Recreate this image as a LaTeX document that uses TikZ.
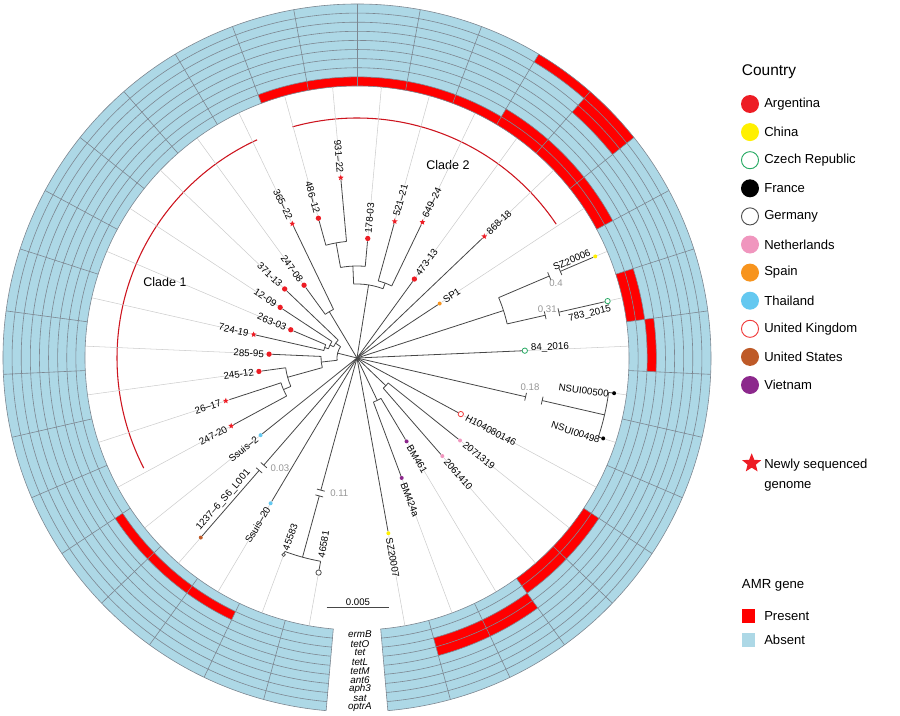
\documentclass[tikz,border=0pt]{standalone}
\usepackage{fontspec}
\setmainfont{Liberation Sans}
\usetikzlibrary{shapes.geometric}

\definecolor{argred}{RGB}{237,28,36}
\definecolor{chinayel}{RGB}{255,240,0}
\definecolor{czgreen}{RGB}{40,170,100}
\definecolor{nlpink}{RGB}{240,150,190}
\definecolor{esorange}{RGB}{247,148,30}
\definecolor{thblue}{RGB}{100,200,240}
\definecolor{usbrown}{RGB}{190,90,40}
\definecolor{vnpurple}{RGB}{140,40,140}
\definecolor{ukred}{RGB}{240,60,60}
\definecolor{degray}{RGB}{80,80,80}
\definecolor{absentblue}{RGB}{173,216,230}
\definecolor{presentred}{RGB}{255,0,0}
\definecolor{ringgray}{RGB}{125,135,145}
\definecolor{tipgray}{RGB}{205,205,205}
\definecolor{treegray}{RGB}{70,70,70}
\definecolor{brkgray}{RGB}{150,150,150}
\definecolor{cladered}{RGB}{205,20,30}

% one present cell: sector #1 (1..34), ring #2 (1..9)
\newcommand\amrcell[2]{%
  \pgfmathsetmacro\aA{-85+(#1-1)*10.2941}%
  \pgfmathsetmacro\aB{\aA+10.2941}%
  \pgfmathsetmacro\rA{272+(#2-1)*9.111}%
  \pgfmathsetmacro\rB{\rA+9.111}%
  \fill[presentred] (\aA:\rA) arc[start angle=\aA,end angle=\aB,radius=\rA] -- (\aB:\rB) arc[start angle=\aB,end angle=\aA,radius=\rB] -- cycle;}

\begin{document}
\begin{tikzpicture}[x=0.75pt,y=0.75pt,
	branch/.style={treegray,line width=0.6pt},
	tipline/.style={tipgray,line width=0.4pt},
	gridline/.style={ringgray,line width=0.45pt},
	brklbl/.style={text=brkgray,font=\fontsize{7.2}{8}\selectfont,inner sep=0pt},
	lbl/.style={font=\fontsize{7.3}{8}\selectfont,inner sep=0pt},
	lblR/.style={lbl,anchor=west},
	lblL/.style={lbl,anchor=east},
	argdot/.style={circle,fill=argred,inner sep=0pt,minimum size=4pt},
	newstar/.style={star,star points=5,star point ratio=2.3,fill=argred,inner sep=0pt,minimum size=4.6pt},
	smalldot/.style={circle,fill=#1,inner sep=0pt,minimum size=3pt},
	opendot/.style={circle,draw=#1,fill=white,line width=0.6pt,inner sep=0pt,minimum size=4pt},
	legdot/.style={circle,fill=#1,inner sep=0pt,minimum size=13.5pt},
	legopen/.style={circle,draw=#1,line width=0.7pt,inner sep=0pt,minimum size=12.8pt},
	legtext/.style={anchor=west,font=\fontsize{9.8}{11}\selectfont,inner sep=0pt},
	legtitle/.style={anchor=west,font=\fontsize{11.6}{13}\selectfont,inner sep=0pt},
	clade/.style={font=\fontsize{9.4}{11}\selectfont,inner sep=0pt},
	genelbl/.style={font=\itshape\fontsize{7.4}{8}\selectfont,inner sep=0pt}]
	\useasboundingbox (-357,-357) rectangle (543,358);

	% AMR ring
	\fill[absentblue] (-85:272) arc[start angle=-85,end angle=265,radius=272] -- (265:354) arc[start angle=265,end angle=-85,radius=354] -- cycle;
	\foreach \s/\g in {15/1,16/1,17/1,18/1,19/1,12/1,12/2,13/1,13/2,14/1,14/2,14/9,13/7,13/8,13/9,10/1,10/2,9/3,4/1,4/2,5/1,5/2,2/3,2/4,3/3,3/4,30/2,31/2,32/2}
		{\amrcell{\s}{\g}}
	\foreach \k in {0,...,9}
		\draw[gridline] (-85:{272+9.111*\k}) arc[start angle=-85,end angle=265,radius={272+9.111*\k}];
	\foreach \k in {0,...,34}
		\draw[gridline] ({-85+10.2941*\k}:272) -- ({-85+10.2941*\k}:354);

	% gene names in the gap
	\node[genelbl] (gErmB) at (3,-276.6) {ermB};
	\node[genelbl] (gTetO) at (3,-285.7) {tetO};
	\node[genelbl] (gTet) at (3,-294.8) {tet};
	\node[genelbl] (gTetL) at (3,-303.9) {tetL};
	\node[genelbl] (gTetM) at (3,-313.0) {tetM};
	\node[genelbl] (gAnt6) at (3,-322.1) {ant6};
	\node[genelbl] (gAph3) at (3,-331.2) {aph3};
	\node[genelbl] (gSat) at (3,-340.4) {sat};
	\node[genelbl] (gOptrA) at (3,-349.5) {optrA};

	% clades
	\draw[cladered,line width=0.8pt] (114.6:240) arc[start angle=114.6,end angle=207.3,radius=240];
	\draw[cladered,line width=0.8pt] (33.9:240) arc[start angle=33.9,end angle=105.6,radius=240];
	\node[clade] (clade1) at (-192,76) {Clade 1};
	\node[clade] (clade2) at (91,193) {Clade 2};

	% tips
	\node[smalldot=chinayel] (nSZ7) at (-79.853:178) {};
	\node[smalldot=vnpurple] (nBM424) at (-69.559:128) {};
	\node[smalldot=vnpurple] (nBM461) at (-59.265:97) {};
	\node[smalldot=nlpink] (n2061) at (-48.971:130) {};
	\node[smalldot=nlpink] (n2071) at (-38.676:132) {};
	\node[opendot=ukred] (nH104) at (-28.382:118) {};
	\node[smalldot=black] (nNS498) at (-18.088:259) {};
	\node[smalldot=black] (nNS500) at (-7.794:259.5) {};
	\node[opendot=czgreen] (n84) at (2.5:168) {};
	\node[opendot=czgreen] (n783) at (12.794:257) {};
	\node[smalldot=chinayel] (nSZ6) at (23.088:259) {};
	\node[smalldot=esorange] (nSP1) at (33.382:99) {};
	\node[newstar] (n868) at (43.676:176) {};
	\node[argdot] (n473) at (53.971:97.6) {};
	\node[newstar] (n649) at (64.265:150.7) {};
	\node[newstar] (n521) at (74.559:141.7) {};
	\node[argdot] (n178) at (84.853:120) {};
	\node[newstar] (n931) at (95.147:181) {};
	\node[argdot] (n486) at (105.441:145) {};
	\node[newstar] (n365) at (115.735:149) {};
	\node[argdot] (n24708) at (126.029:90) {};
	\node[argdot] (n37113) at (136.324:100) {};
	\node[argdot] (n1209) at (146.618:92) {};
	\node[argdot] (n26303) at (156.912:72) {};
	\node[newstar] (n72419) at (167.206:106) {};
	\node[argdot] (n28595) at (177.5:88) {};
	\node[argdot] (n24512) at (187.794:99) {};
	\node[newstar] (n2617) at (198.088:138) {};
	\node[newstar] (n24720) at (208.382:143) {};
	\node[smalldot=thblue] (nSs2) at (218.676:123.5) {};
	\node[smalldot=usbrown] (n1237) at (228.971:238) {};
	\node[smalldot=thblue] (nSs20) at (239.265:169) {};
	\node[opendot=degray,minimum size=2.6pt] (n45583) at (249.559:210) {};
	\node[opendot=degray] (n46581) at (259.853:218) {};

	% tip lines out to the ring
	\foreach \n/\a in {nSZ7/-79.853,nBM424/-69.559,nBM461/-59.265,n2061/-48.971,n2071/-38.676,nH104/-28.382,nNS498/-18.088,nNS500/-7.794,n84/2.5,n783/12.794,nSZ6/23.088,nSP1/33.382,n868/43.676,n473/53.971,n649/64.265,n521/74.559,n178/84.853,n931/95.147,n486/105.441,n365/115.735,n24708/126.029,n37113/136.324,n1209/146.618,n26303/156.912,n72419/167.206,n28595/177.5,n24512/187.794,n2617/198.088,n24720/208.382,nSs2/218.676,n1237/228.971,nSs20/239.265,n45583/249.559,n46581/259.853}
		\draw[tipline] (\n) -- (\a:272);

	% root
	\coordinate (root) at (0,0);
	\draw[branch] (root) -- (nSZ7);
	\draw[branch] (root) -- (nH104);
	\draw[branch] (root) -- (n84);
	\draw[branch] (root) -- (nSP1);
	\draw[branch] (root) -- (n868);
	\draw[branch] (root) -- (n473);
	\draw[branch] (root) -- (nSs2);
	\draw[branch] (root) -- (nSs20);
	% clade 2 core
	\draw[branch] (95.147:117) arc[start angle=95.147,end angle=105.441,radius=117];
	\draw[branch] (95.147:117) -- (n931);
	\draw[branch] (105.441:117) -- (n486);
	\draw[branch] (84.853:92) arc[start angle=84.853,end angle=100.294,radius=92];
	\draw[branch] (84.853:92) -- (n178);
	\draw[branch] (100.294:92) -- (100.294:117);
	\draw[branch] (64.265:80) arc[start angle=64.265,end angle=74.559,radius=80];
	\draw[branch] (64.265:80) -- (n649);
	\draw[branch] (74.559:80) -- (n521);
	\draw[branch] (69.412:74) arc[start angle=69.412,end angle=92.574,radius=74];
	\draw[branch] (69.412:74) -- (69.412:80);
	\draw[branch] (92.574:74) -- (92.574:92);
	\draw[branch] (root) -- (80.993:74);
	\draw[branch] (115.735:54) arc[start angle=115.735,end angle=126.029,radius=54];
	\draw[branch] (115.735:54) -- (n365);
	\draw[branch] (126.029:54) -- (n24708);
	\draw[branch] (root) -- (120.882:54);
	% clade 1 core
	\draw[branch] (156.912:34) arc[start angle=156.912,end angle=167.206,radius=34];
	\draw[branch] (156.912:34) -- (n26303);
	\draw[branch] (167.206:34) -- (n72419);
	\draw[branch] (146.618:30) arc[start angle=146.618,end angle=162.059,radius=30];
	\draw[branch] (146.618:30) -- (n1209);
	\draw[branch] (162.059:30) -- (162.059:34);
	\draw[branch] (136.324:26) arc[start angle=136.324,end angle=154.338,radius=26];
	\draw[branch] (136.324:26) -- (n37113);
	\draw[branch] (154.338:26) -- (154.338:30);
	\draw[branch] (198.088:80) arc[start angle=198.088,end angle=208.382,radius=80];
	\draw[branch] (198.088:80) -- (n2617);
	\draw[branch] (208.382:80) -- (n24720);
	\draw[branch] (187.794:72) arc[start angle=187.794,end angle=203.235,radius=72];
	\draw[branch] (187.794:72) -- (n24512);
	\draw[branch] (203.235:72) -- (203.235:80);
	\draw[branch] (177.5:36) arc[start angle=177.5,end angle=195.515,radius=36];
	\draw[branch] (177.5:36) -- (n28595);
	\draw[branch] (195.515:36) -- (195.515:72);
	\draw[branch] (145.331:20) arc[start angle=145.331,end angle=186.507,radius=20];
	\draw[branch] (145.331:20) -- (145.331:26);
	\draw[branch] (186.507:20) -- (186.507:36);
	\draw[branch] (root) -- (165.919:20);
	% right side
	\draw[branch] (12.794:154) arc[start angle=12.794,end angle=23.088,radius=154];
	\draw[branch] (root) -- (17.941:154);
	\draw[branch] (23.088:154) -- (23.088:209);
	\draw[branch,rotate=23.088] (209,-4) -- (209,4) (221,-4) -- (221,4);
	\draw[branch] (23.088:221) -- (nSZ6);
	\draw[branch] (12.794:154) -- (12.794:193);
	\draw[branch,rotate=12.794] (193,-4) -- (193,4) (207,-4) -- (207,4);
	\draw[branch] (12.794:207) -- (n783);
	\node[brklbl] (b04) at (199,75.3) {0.4};
	\node[brklbl] (b031) at (190.3,49) {0.31};
	\draw[branch] (-18.088:254) arc[start angle=-18.088,end angle=-7.794,radius=254];
	\draw[branch] (-18.088:254) -- (nNS498);
	\draw[branch] (-7.794:254) -- (nNS500);
	\draw[branch] (root) -- (-12.941:173);
	\draw[branch,rotate=-12.941] (173,-4) -- (173,4) (190,-4) -- (190,4);
	\draw[branch] (-12.941:190) -- (-12.941:254);
	\node[brklbl] (b018) at (173,-29.3) {0.18};
	\draw[branch] (-48.971:40) arc[start angle=-48.971,end angle=-38.676,radius=40];
	\draw[branch] (-48.971:40) -- (n2061);
	\draw[branch] (-38.676:40) -- (n2071);
	\draw[branch] (root) -- (-43.824:40);
	\draw[branch] (-69.559:47) arc[start angle=-69.559,end angle=-59.265,radius=47];
	\draw[branch] (-69.559:47) -- (nBM424);
	\draw[branch] (-59.265:47) -- (nBM461);
	\draw[branch] (root) -- (-64.412:47);
	% left bottom
	\draw[branch] (249.559:206.5) arc[start angle=249.559,end angle=259.853,radius=206.5];
	\draw[branch] (249.559:206.5) -- (n45583);
	\draw[branch] (259.853:206.5) -- (n46581);
	\draw[branch] (root) -- (254.706:137);
	\draw[branch,rotate=254.706] (137,-4) -- (137,4) (143,-4) -- (143,4);
	\draw[branch] (254.706:143) -- (254.706:206.5);
	\node[brklbl] (b011) at (-17.7,-134.7) {0.11};
	\draw[branch] (root) -- (228.971:142);
	\draw[branch,rotate=228.971] (142,-4) -- (142,4) (149,-4) -- (149,4);
	\draw[branch] (228.971:149) -- (n1237);
	\node[brklbl] (b003) at (-77,-110.3) {0.03};

	% tip labels
	\node[lblR,rotate=-79.853] at (-79.853:183) {SZ20007};
	\node[lblR,rotate=-69.559] at (-69.559:133) {BM424a};
	\node[lblR,rotate=-59.265] at (-59.265:102) {BM461};
	\node[lblR,rotate=-48.971] at (-48.971:135) {2061410};
	\node[lblR,rotate=-38.676] at (-38.676:137) {2071319};
	\node[lblR,rotate=-28.382] at (-28.382:124) {H104080146};
	\node[lbl,rotate=-18.088] at (-18.8:231) {NSUI00498};
	\node[lbl,rotate=-7.794] at (-8.2:229) {NSUI00500};
	\node[lblR,rotate=2.5] at (3.2:174) {84\_2016};
	\node[lbl,rotate=12.794] at (10.7:237) {783\_2015};
	\node[lbl,rotate=23.088] at (24.5:236) {SZ20006};
	\node[lblR,rotate=33.382] at (33.382:104) {SP1};
	\node[lblR,rotate=43.676] at (43.676:181) {868-18};
	\node[lblR,rotate=53.971] at (53.971:103) {473-13};
	\node[lblR,rotate=64.265] at (64.265:156) {649--24};
	\node[lblR,rotate=74.559] at (74.559:147) {521--21};
	\node[lblR,rotate=84.853] at (84.853:125) {178-03};
	\node[lblL,rotate=-84.853] at (95.147:186) {931--22};
	\node[lblL,rotate=-74.559] at (105.441:150) {486--12};
	\node[lblL,rotate=-64.265] at (115.735:154) {365--22};
	\node[lblL,rotate=-53.971] at (126.029:95) {247-08};
	\node[lblL,rotate=-43.676] at (136.324:105) {371-13};
	\node[lblL,rotate=-33.382] at (146.618:97) {12-09};
	\node[lblL,rotate=-23.088] at (156.912:77) {263-03};
	\node[lblL,rotate=-12.794] at (167.206:111) {724-19};
	\node[lblL,rotate=-2.5] at (177.5:93) {285-95};
	\node[lblL,rotate=7.794] at (187.794:104) {245-12};
	\node[lblL,rotate=18.088] at (198.088:143) {26--17};
	\node[lblL,rotate=28.382] at (208.382:148) {247-20};
	\node[lblL,rotate=38.676] at (218.676:128) {Ssuis--2};
	\node[lbl,rotate=48.971] at (226.8:195) {1237--6\_S6\_L001};
	\node[lblL,rotate=59.265] at (239.265:174) {Ssuis--20};
	\node[lbl,anchor=west,rotate=69.559] at (249.559:205) {45583};
	\node[lbl,anchor=west,rotate=79.853] at (259.853:203) {46581};

	% scale bar
	\coordinate (sbL) at (-30.3,-249.7);
	\coordinate (sbR) at (32.3,-249.7);
	\draw[branch] (sbL) -- (sbR);
	\node[lbl,anchor=south,font=\fontsize{7.2}{8}\selectfont] (sbT) at (1,-247.5) {0.005};

	% legend
	\node[legtitle] (lgCountry) at (384.7,286.3) {Country};
	\node[legdot=argred] (lg1) at (393,254) {};
	\node[legtext] at (407,254) {Argentina};
	\node[legdot=chinayel] (lg2) at (393,225.9) {};
	\node[legtext] at (407,225.9) {China};
	\node[legopen=czgreen] (lg3) at (393,197.8) {};
	\node[legtext] at (407,197.8) {Czech Republic};
	\node[legdot=black] (lg4) at (393,169.7) {};
	\node[legtext] at (407,169.7) {France};
	\node[legopen=degray] (lg5) at (393,141.6) {};
	\node[legtext] at (407,141.6) {Germany};
	\node[legdot=nlpink] (lg6) at (393,113.5) {};
	\node[legtext] at (407,113.5) {Netherlands};
	\node[legdot=esorange] (lg7) at (393,85.4) {};
	\node[legtext] at (407,85.4) {Spain};
	\node[legdot=thblue] (lg8) at (393,57.3) {};
	\node[legtext] at (407,57.3) {Thailand};
	\node[legopen=ukred] (lg9) at (393,29.2) {};
	\node[legtext] at (407,29.2) {United Kingdom};
	\node[legdot=usbrown] (lg10) at (393,1.1) {};
	\node[legtext] at (407,1.1) {United States};
	\node[legdot=vnpurple] (lg11) at (393,-27) {};
	\node[legtext] at (407,-27) {Vietnam};
	\node[newstar,minimum size=15pt] (lgStar) at (394.7,-105.3) {};
	\node[legtext,anchor=base west] at (407,-110) {Newly sequenced};
	\node[legtext,anchor=base west] at (407,-130) {genome};
	\node[legtitle,font=\fontsize{9.9}{11}\selectfont] (lgAmr) at (384.7,-227.7) {AMR gene};
	\node[fill=presentred,minimum size=9.8pt,inner sep=0pt] (lgPres) at (391.3,-258) {};
	\node[legtext] at (407,-258) {Present};
	\node[fill=absentblue,minimum size=9.8pt,inner sep=0pt] (lgAbs) at (391.3,-282) {};
	\node[legtext] at (407,-282) {Absent};
\end{tikzpicture}
\end{document}
